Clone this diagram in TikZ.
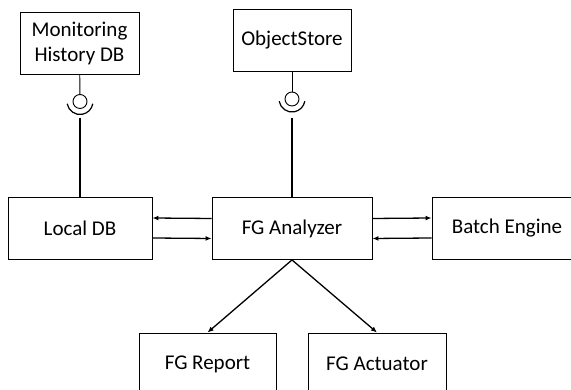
\documentclass[tikz,border=0pt]{standalone}
\usepackage{fontspec}
\setmainfont{Carlito}
\usetikzlibrary{arrows.meta}

\begin{document}
\begin{tikzpicture}[x=1pt,y=1pt,
  box/.style={draw, line width=0.9pt, minimum height=62pt, align=center, inner sep=0pt, font=\fontsize{21}{25}\selectfont},
  arr/.style={line width=1.3pt, -{Latex[length=6pt,width=5pt]}},
  ball/.style={draw, circle, line width=0.9pt, minimum size=14pt, inner sep=0pt}]
\clip (0,0) rectangle (571,390);
\node[box, minimum width=119pt] (mon) at (79.5,347){Monitoring\\History DB};
\node[box, minimum width=118pt] (obj) at (292,350){ObjectStore};
\node[box, minimum width=144pt] (ldb) at (80,162){Local DB};
\node[box, minimum width=160pt] (ana) at (292,161.5){FG Analyzer};
\node[box, minimum width=150pt] (bat) at (507,162){Batch Engine};
\node[box, minimum width=137pt] (rep) at (207.5,26){FG Report};
\node[box, minimum width=138pt] (act) at (377,26){FG Actuator};
\node[ball] (b1) at (80,288.5){};
\node[ball] (b2) at (292,291){};
\coordinate (s1) at (80,272);
\coordinate (s2) at (292,272);
\draw[line width=0.9pt] (mon) -- (b1);
\draw[line width=0.9pt] (obj) -- (b2);
\draw[line width=1.2pt] ([shift={(190:13)}]b1.center) arc (190:350:13);
\draw[line width=1.2pt] ([shift={(190:13)}]b2.center) arc (190:350:13);
\draw[line width=1.3pt] (s1) -- (ldb);
\draw[line width=1.3pt] (s2) -- (ana);
\draw[arr] ([yshift=10pt]ana.west) -- ([yshift=10pt]ldb.east);
\draw[arr] ([yshift=-10pt]ldb.east) -- ([yshift=-10pt]ana.west);
\draw[arr] ([yshift=10pt]ana.east) -- ([yshift=10pt]bat.west);
\draw[arr] ([yshift=-10pt]bat.west) -- ([yshift=-10pt]ana.east);
\draw[arr] (ana.south) -- (rep.north);
\draw[arr] (ana.south) -- (act.north);
\end{tikzpicture}
\end{document}
